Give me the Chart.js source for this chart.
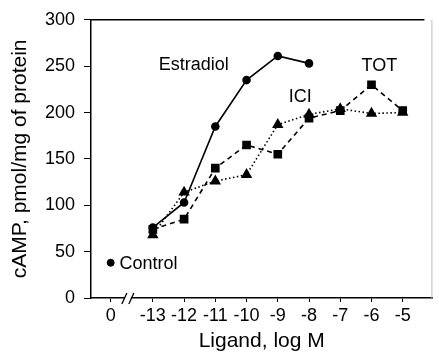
<!DOCTYPE html>
<html>
<head>
<meta charset="utf-8">
<script src="https://cdn.jsdelivr.net/npm/chart.js@4.4.1/dist/chart.umd.min.js"></script>
<style>
  html, body { margin: 0; padding: 0; background: #fff; }
  canvas { display: block; }
</style>
</head>
<body>
<canvas id="camp-chart" width="439" height="354"></canvas>
<script>
// cAMP response per ligand dose (log M), control at "0"
const doses = ["-13", "-12", "-11", "-10", "-9", "-8", "-7", "-6", "-5"];
const estradiol = [76, 103, 185, 235, 261, 253];
const tot = [74, 85, 140, 165, 155, 194, 202, 230, 202];
const ici = [68, 114, 126, 133, 187, 198, 204, 199, 200];
const controlValue = 38;

const GAP = 1.35; // extra room between the control slot and -13 (axis break)
const FONT = "'Liberation Sans', Arial, Helvetica, sans-serif";

function slot(label) {
  return label === "0" ? 0 : doses.indexOf(label) + GAP;
}
function points(values) {
  return values.map((v, i) => ({ x: slot(doses[i]), y: v }));
}
const xLabels = ["0"].concat(doses);

// series names written next to the curves (data units)
const notes = [
  { text: "Estradiol", x: 1.54, y: 246 },
  { text: "ICI", x: 5.70, y: 211 },
  { text: "TOT", x: 8.03, y: 245 },
  { text: "Control", x: 0.28, y: 31 }
];

const framePlugin = {
  id: "frame",
  afterDraw(chart) {
    const ctx = chart.ctx;
    const a = chart.chartArea;
    const xs = chart.scales.x, ys = chart.scales.y;
    ctx.save();
    // top and right edges of the box
    ctx.strokeStyle = "#000";
    ctx.lineWidth = 1.5;
    ctx.beginPath();
    ctx.moveTo(a.left, a.top);
    ctx.lineTo(a.right - 8, a.top);
    ctx.stroke();
    ctx.strokeStyle = "#bbb";
    ctx.lineWidth = 1;
    ctx.beginPath();
    ctx.moveTo(a.right - 0.5, a.top);
    ctx.lineTo(a.right - 0.5, a.bottom);
    ctx.stroke();

    // axis break between control and -13
    const bx = xs.getPixelForValue(0.55);
    const by = a.bottom;
    ctx.fillStyle = "#fff";
    ctx.fillRect(bx - 3, by - 2, 6, 4);
    ctx.strokeStyle = "#000";
    ctx.lineWidth = 1.3;
    ctx.beginPath();
    ctx.moveTo(bx - 6, by + 6);
    ctx.lineTo(bx - 1, by - 5);
    ctx.moveTo(bx + 1, by + 6);
    ctx.lineTo(bx + 6, by - 5);
    ctx.stroke();

    // curve labels
    ctx.fillStyle = "#000";
    ctx.font = "18px " + FONT;
    ctx.textAlign = "left";
    ctx.textBaseline = "alphabetic";
    notes.forEach(n => {
      ctx.fillText(n.text, xs.getPixelForValue(n.x), ys.getPixelForValue(n.y));
    });
    ctx.restore();
  }
};

new Chart(document.getElementById("camp-chart"), {
  type: "line",
  data: {
    datasets: [
      {
        label: "Estradiol",
        data: points(estradiol),
        borderColor: "#000",
        backgroundColor: "#000",
        borderWidth: 1.6,
        pointStyle: "circle",
        pointRadius: 3.5
      },
      {
        label: "TOT",
        data: points(tot),
        borderColor: "#000",
        backgroundColor: "#000",
        borderWidth: 1.6,
        borderDash: [5, 4],
        pointStyle: "rect",
        pointRadius: 5
      },
      {
        label: "ICI",
        data: points(ici),
        borderColor: "#000",
        backgroundColor: "#000",
        borderWidth: 1.6,
        borderDash: [1.5, 2.5],
        pointStyle: "triangle",
        pointRadius: 5
      },
      {
        label: "Control",
        data: [{ x: slot("0"), y: controlValue }],
        showLine: false,
        borderColor: "#000",
        backgroundColor: "#000",
        pointStyle: "circle",
        pointRadius: 3.5
      }
    ]
  },
  options: {
    responsive: false,
    animation: false,
    layout: { padding: { top: 18, right: 1, left: 0, bottom: 0 } },
    plugins: {
      legend: { display: false },
      tooltip: { enabled: false }
    },
    scales: {
      x: {
        type: "linear",
        min: -0.63,
        max: 10.3,
        afterFit: s => { s.height = 56; },
        afterBuildTicks: s => {
          s.ticks = xLabels.map(l => ({ value: slot(l) }));
        },
        ticks: {
          autoSkip: false,
          maxRotation: 0,
          padding: 3,
          color: "#000",
          font: { family: FONT, size: 18 },
          callback: v => {
            const hit = xLabels.find(l => Math.abs(slot(l) - v) < 1e-6);
            return hit === undefined ? "" : hit;
          }
        },
        grid: {
          drawOnChartArea: false,
          drawTicks: true,
          tickLength: 4,
          color: "#000"
        },
        border: { display: true, color: "#000", width: 1.5 },
        title: {
          display: true,
          text: "Ligand, log M",
          color: "#000",
          font: { family: FONT, size: 21 },
          padding: { top: 0, bottom: 0 }
        }
      },
      y: {
        min: 0,
        max: 300,
        afterFit: s => { s.width = 91; },
        ticks: {
          stepSize: 25,
          padding: 9,
          color: "#000",
          font: { family: FONT, size: 18 },
          callback: v => (v % 50 === 0 ? v : "")
        },
        grid: {
          drawOnChartArea: false,
          drawTicks: true,
          tickLength: 7,
          color: "#000"
        },
        border: { display: true, color: "#000", width: 1.5 },
        title: {
          display: true,
          text: "cAMP, pmol/mg of protein",
          color: "#000",
          font: { family: FONT, size: 21 },
          padding: { top: 8, bottom: 4 }
        }
      }
    }
  },
  plugins: [framePlugin]
});
</script>
</body>
</html>
